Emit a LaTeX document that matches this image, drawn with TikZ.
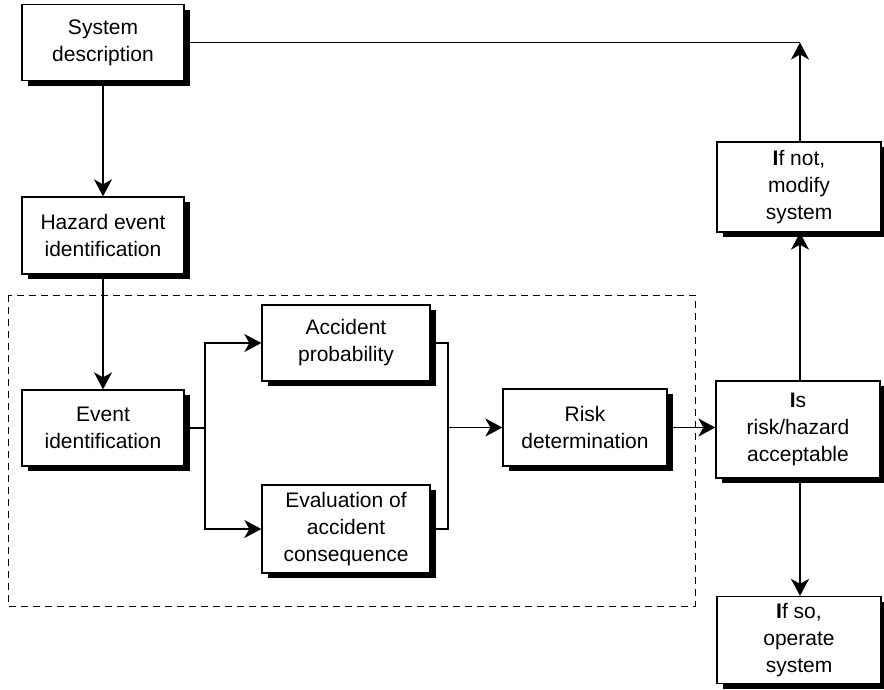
\documentclass[tikz,border=0pt]{standalone}
\usepackage{fontspec}
\setmainfont{Liberation Sans}
\usetikzlibrary{arrows.meta,shadows}
\begin{document}
\begin{tikzpicture}[x=1pt,y=-1pt,
  box/.style={draw=black, line width=1.3pt, fill=white, align=center, inner sep=0pt,
    font=\fontsize{21}{27}\selectfont,
    drop shadow={shadow xshift=6pt, shadow yshift=-5pt, fill=black, opacity=1}},
  conn/.style={line width=1.3pt},
  arr/.style={conn, -{Stealth[length=17pt,width=18pt,inset=5pt]}}]
\useasboundingbox (0,0) rectangle (884,689);
\draw[line width=1pt, dash pattern=on 7pt off 5pt] (8,295) rectangle (695,606);
\node[box, minimum width=162pt, minimum height=76pt] (sys) at (103,42.5) {System\\description};
\node[box, minimum width=162pt, minimum height=77pt] (haz) at (103,235.5) {Hazard event\\identification};
\node[box, minimum width=162pt, minimum height=76pt] (ev) at (103,428) {Event\\identification};
\node[box, minimum width=168pt, minimum height=76pt] (acc) at (346,343) {Accident\\probability};
\node[box, minimum width=168pt, minimum height=88pt] (eva) at (346,529) {Evaluation of\\accident\\consequence};
\node[box, minimum width=164pt, minimum height=77pt] (risk) at (585,427.5) {Risk\\determination};
\node[box, minimum width=164pt, minimum height=97pt] (is) at (798,429.5) {\textbf{I}s\\risk/hazard\\acceptable};
\node[box, minimum width=164pt, minimum height=90pt] (mod) at (799,187) {\textbf{I}f not,\\modify\\system};
\node[box, minimum width=164pt, minimum height=87pt] (op) at (799,640) {\textbf{I}f so,\\operate\\system};
\coordinate (top) at (800,42.5);
\coordinate (sp) at (205,428);
\coordinate (mg) at (448,427.5);
\draw[conn] (sys.east) -- (top);
\draw[arr] (mod.north -| top) -- (top);
\draw[arr] (sys) -- (haz);
\draw[arr] (haz) -- (ev);
\draw[conn] (ev.east) -- (sp);
\draw[arr] (sp) |- (acc.west);
\draw[arr] (sp) |- (eva.west);
\draw[conn] (acc.east) -| (mg);
\draw[conn] (eva.east) -| (mg);
\draw[arr] (mg) -- (risk.west);
\draw[arr] (risk.east) -- (risk.east -| is.west);
\draw[arr] (is.north -| top) -- (mod.south -| top);
\draw[arr] (is.south -| top) -- (op.north -| top);
\end{tikzpicture}
\end{document}
